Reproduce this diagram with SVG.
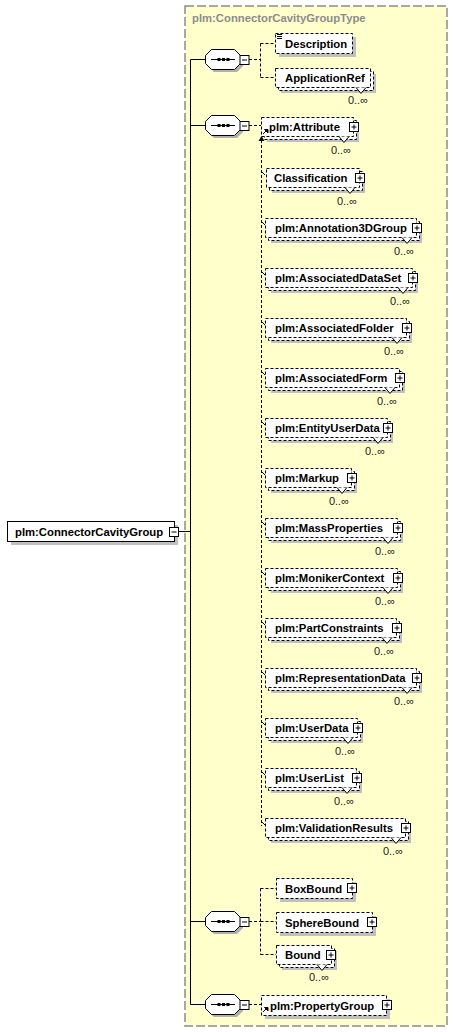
<svg xmlns="http://www.w3.org/2000/svg" xmlns:xlink="http://www.w3.org/1999/xlink" width="453" height="1032" viewBox="0 0 453 1032">
<style>
.sh{fill:#c0c0c0;stroke:none}
.bx{fill:#fff;stroke:#000;stroke-width:1;stroke-dasharray:3 2}
.sbx{fill:#fff;stroke:#000;stroke-width:1}
.lbl{font-family:"Liberation Sans",Arial,sans-serif;font-weight:bold;font-size:11.3px;fill:#000}
.card{font-family:"Liberation Sans",Arial,sans-serif;font-size:11px;fill:#222;text-anchor:end}
.ttl{font-family:"Liberation Sans",Arial,sans-serif;font-weight:bold;font-size:11.3px;fill:#8c8c8c}
.ln{stroke:#000;stroke-width:1;fill:none}
.dl{stroke:#000;stroke-width:1;fill:none;stroke-dasharray:3 2}
.v{fill:#fff;stroke:#000;stroke-width:1}
</style>
<defs>
<g id="plus"><rect x="0.5" y="0.5" width="9" height="9" fill="#fff" stroke="#000"/><path d="M2.5 5H7.5M5 2.5V7.5" stroke="#000" fill="none"/></g>
<g id="minus"><rect x="0.5" y="0.5" width="9" height="9" fill="#fff" stroke="#000"/><path d="M2.5 5H7.5" stroke="#000" fill="none"/></g>
<g id="seq">
<path d="M9 3H32L38 9V17L32 23H9L3 17V9Z" fill="#b0b0b0"/>
<path d="M6.5 0.5H29.5L35.5 6.5V14.5L29.5 20.5H6.5L0.5 14.5V6.5Z" fill="#fff" stroke="#000"/>
<path d="M6 10.5H30" stroke="#000"/>
<rect x="12.5" y="9" width="3" height="3" fill="#000"/>
<rect x="17" y="9" width="3" height="3" fill="#000"/>
<rect x="21.5" y="9" width="3" height="3" fill="#000"/>
<use xlink:href="#minus" x="34.5" y="6"/>
</g>
<path id="ref" d="M0 5L4 1M1.5 0.5H5V4Z" stroke="#000" fill="#000" stroke-width="1"/>
</defs>

<g id="frame">
<rect x="185" y="6" width="262" height="1020" fill="#ffffcc" stroke="#8c8c8c" stroke-width="1.5" stroke-dasharray="9 3"/>
<text class="ttl" x="192" y="22">plm:ConnectorCavityGroupType</text>
</g>

<g id="connectors">
<path class="ln" d="M178.5 531.5H190.5M190.5 59.5V1004.5M190.5 59.5H205M190.5 125.5H205M190.5 921.5H205M190.5 1004.5H205"/>
<path class="dl" d="M249 59.5H260.5M260.5 43.5V77.5M260.5 43.5H275M260.5 77.5H275"/>
<path class="dl" d="M249 125.5H261"/>
<path class="dl" d="M261.5 140V826"/>
<path d="M261.5 136L258.5 141H264.5Z" fill="#000"/>
<path class="ln" d="M262 172L265 175M262 222L265 225M262 272L265 275M262 322L265 325M262 372L265 375M262 422L265 425M262 472L265 475M262 522L265 525M262 572L265 575M262 622L265 625M262 672L265 675M262 722L265 725M262 772L265 775M262 822L265 825"/>
<path class="dl" d="M249 921.5H260.5M260.5 888.5V954.5M260.5 888.5H276M260.5 921.5H276M260.5 954.5H276"/>
<path class="dl" d="M249 1004.5H261"/>
</g>

<g id="root">
<rect class="sh" x="11" y="525" width="167" height="20"/>
<rect class="sbx" x="7.5" y="521.5" width="167" height="20"/>
<text class="lbl" x="15" y="536">plm:ConnectorCavityGroup</text>
<use xlink:href="#minus" x="169" y="527"/>
</g>

<g id="seq1"><use xlink:href="#seq" x="205" y="49"/></g>
<g id="seq2"><use xlink:href="#seq" x="205" y="115"/></g>
<g id="seq3"><use xlink:href="#seq" x="205" y="911"/></g>
<g id="seq4"><use xlink:href="#seq" x="205" y="994"/></g>

<g id="Description">
<rect class="sh" x="279" y="37" width="77" height="20"/>
<rect class="bx" x="275.5" y="33.5" width="77" height="20"/>
<path class="ln" d="M277 34.5H282M277 36.5H282M277 38.5H282"/>
<text class="lbl" x="285" y="48">Description</text>
</g>

<g id="ApplicationRef">
<rect class="sh" x="281" y="74" width="95" height="19"/>
<rect class="bx" x="278.5" y="71.5" width="95" height="19"/>
<rect class="bx" x="275.5" y="68.5" width="95" height="19"/>
<path class="v" d="M356 87.5L361 93.5L366 87.5"/>
<text class="lbl" x="285" y="82">ApplicationRef</text>
<text class="card" x="368" y="104">0..∞</text>
</g>

<g id="Attribute">
<rect class="sh" x="267" y="123" width="92" height="19"/>
<rect class="bx" x="264.5" y="120.5" width="92" height="19"/>
<rect class="bx" x="261.5" y="117.5" width="92" height="19"/>
<path class="v" d="M339 136.5L344 142.5L349 136.5"/>
<use xlink:href="#ref" x="263" y="129"/>
<text class="lbl" x="269" y="131">plm:Attribute</text>
<use xlink:href="#plus" x="349" y="122"/>
<text class="card" x="351" y="153.5">0..∞</text>
</g>

<g id="Classification">
<rect class="sh" x="272" y="174" width="93" height="19"/>
<rect class="bx" x="269.5" y="171.5" width="93" height="19"/>
<rect class="bx" x="266.5" y="168.5" width="93" height="19"/>
<path class="v" d="M345 187.5L350 193.5L355 187.5"/>
<text class="lbl" x="274" y="182">Classification</text>
<use xlink:href="#plus" x="355" y="173"/>
<text class="card" x="357" y="204.5">0..∞</text>
</g>

<g id="Annotation3DGroup">
<rect class="sh" x="271" y="224" width="151" height="19"/>
<rect class="bx" x="268.5" y="221.5" width="151" height="19"/>
<rect class="bx" x="265.5" y="218.5" width="151" height="19"/>
<path class="v" d="M402 237.5L407 243.5L412 237.5"/>
<text class="lbl" x="275" y="232">plm:Annotation3DGroup</text>
<use xlink:href="#plus" x="412" y="223"/>
<text class="card" x="414" y="254.5">0..∞</text>
</g>

<g id="AssociatedDataSet">
<rect class="sh" x="271" y="274" width="147" height="19"/>
<rect class="bx" x="268.5" y="271.5" width="147" height="19"/>
<rect class="bx" x="265.5" y="268.5" width="147" height="19"/>
<path class="v" d="M398 287.5L403 293.5L408 287.5"/>
<text class="lbl" x="275" y="282">plm:AssociatedDataSet</text>
<use xlink:href="#plus" x="408" y="273"/>
<text class="card" x="410" y="304.5">0..∞</text>
</g>

<g id="AssociatedFolder">
<rect class="sh" x="271" y="324" width="141" height="19"/>
<rect class="bx" x="268.5" y="321.5" width="141" height="19"/>
<rect class="bx" x="265.5" y="318.5" width="141" height="19"/>
<path class="v" d="M392 337.5L397 343.5L402 337.5"/>
<text class="lbl" x="275" y="332">plm:AssociatedFolder</text>
<use xlink:href="#plus" x="402" y="323"/>
<text class="card" x="404" y="354.5">0..∞</text>
</g>

<g id="AssociatedForm">
<rect class="sh" x="271" y="374" width="134" height="19"/>
<rect class="bx" x="268.5" y="371.5" width="134" height="19"/>
<rect class="bx" x="265.5" y="368.5" width="134" height="19"/>
<path class="v" d="M385 387.5L390 393.5L395 387.5"/>
<text class="lbl" x="275" y="382">plm:AssociatedForm</text>
<use xlink:href="#plus" x="395" y="373"/>
<text class="card" x="397" y="404.5">0..∞</text>
</g>

<g id="EntityUserData">
<rect class="sh" x="271" y="424" width="122" height="19"/>
<rect class="bx" x="268.5" y="421.5" width="122" height="19"/>
<rect class="bx" x="265.5" y="418.5" width="122" height="19"/>
<path class="v" d="M373 437.5L378 443.5L383 437.5"/>
<text class="lbl" x="275" y="432">plm:EntityUserData</text>
<use xlink:href="#plus" x="383" y="423"/>
<text class="card" x="385" y="454.5">0..∞</text>
</g>

<g id="Markup">
<rect class="sh" x="271" y="474" width="86" height="19"/>
<rect class="bx" x="268.5" y="471.5" width="86" height="19"/>
<rect class="bx" x="265.5" y="468.5" width="86" height="19"/>
<path class="v" d="M337 487.5L342 493.5L347 487.5"/>
<text class="lbl" x="275" y="482">plm:Markup</text>
<use xlink:href="#plus" x="347" y="473"/>
<text class="card" x="349" y="504.5">0..∞</text>
</g>

<g id="MassProperties">
<rect class="sh" x="271" y="524" width="132" height="19"/>
<rect class="bx" x="268.5" y="521.5" width="132" height="19"/>
<rect class="bx" x="265.5" y="518.5" width="132" height="19"/>
<path class="v" d="M383 537.5L388 543.5L393 537.5"/>
<text class="lbl" x="275" y="532">plm:MassProperties</text>
<use xlink:href="#plus" x="393" y="523"/>
<text class="card" x="395" y="554.5">0..∞</text>
</g>

<g id="MonikerContext">
<rect class="sh" x="271" y="574" width="132" height="19"/>
<rect class="bx" x="268.5" y="571.5" width="132" height="19"/>
<rect class="bx" x="265.5" y="568.5" width="132" height="19"/>
<path class="v" d="M383 587.5L388 593.5L393 587.5"/>
<text class="lbl" x="275" y="582">plm:MonikerContext</text>
<use xlink:href="#plus" x="393" y="573"/>
<text class="card" x="395" y="604.5">0..∞</text>
</g>

<g id="PartConstraints">
<rect class="sh" x="271" y="624" width="131" height="19"/>
<rect class="bx" x="268.5" y="621.5" width="131" height="19"/>
<rect class="bx" x="265.5" y="618.5" width="131" height="19"/>
<path class="v" d="M382 637.5L387 643.5L392 637.5"/>
<text class="lbl" x="275" y="632">plm:PartConstraints</text>
<use xlink:href="#plus" x="392" y="623"/>
<text class="card" x="394" y="654.5">0..∞</text>
</g>

<g id="RepresentationData">
<rect class="sh" x="271" y="674" width="151" height="19"/>
<rect class="bx" x="268.5" y="671.5" width="151" height="19"/>
<rect class="bx" x="265.5" y="668.5" width="151" height="19"/>
<path class="v" d="M402 687.5L407 693.5L412 687.5"/>
<text class="lbl" x="275" y="682">plm:RepresentationData</text>
<use xlink:href="#plus" x="412" y="673"/>
<text class="card" x="414" y="704.5">0..∞</text>
</g>

<g id="UserData">
<rect class="sh" x="271" y="724" width="92" height="19"/>
<rect class="bx" x="268.5" y="721.5" width="92" height="19"/>
<rect class="bx" x="265.5" y="718.5" width="92" height="19"/>
<path class="v" d="M343 737.5L348 743.5L353 737.5"/>
<text class="lbl" x="275" y="732">plm:UserData</text>
<use xlink:href="#plus" x="353" y="723"/>
<text class="card" x="355" y="754.5">0..∞</text>
</g>

<g id="UserList">
<rect class="sh" x="271" y="774" width="91" height="19"/>
<rect class="bx" x="268.5" y="771.5" width="91" height="19"/>
<rect class="bx" x="265.5" y="768.5" width="91" height="19"/>
<path class="v" d="M342 787.5L347 793.5L352 787.5"/>
<text class="lbl" x="275" y="782">plm:UserList</text>
<use xlink:href="#plus" x="352" y="773"/>
<text class="card" x="354" y="804.5">0..∞</text>
</g>

<g id="ValidationResults">
<rect class="sh" x="271" y="824" width="140" height="19"/>
<rect class="bx" x="268.5" y="821.5" width="140" height="19"/>
<rect class="bx" x="265.5" y="818.5" width="140" height="19"/>
<path class="v" d="M391 837.5L396 843.5L401 837.5"/>
<text class="lbl" x="275" y="832">plm:ValidationResults</text>
<use xlink:href="#plus" x="401" y="823"/>
<text class="card" x="403" y="854.5">0..∞</text>
</g>

<g id="BoxBound">
<rect class="sh" x="280" y="882" width="76" height="20"/>
<rect class="bx" x="276.5" y="878.5" width="76" height="20"/>
<text class="lbl" x="285" y="893">BoxBound</text>
<use xlink:href="#plus" x="347" y="883"/>
</g>

<g id="SphereBound">
<rect class="sh" x="280" y="916" width="96" height="20"/>
<rect class="bx" x="276.5" y="912.5" width="96" height="20"/>
<text class="lbl" x="285" y="927">SphereBound</text>
<use xlink:href="#plus" x="367" y="917"/>
</g>

<g id="Bound">
<rect class="sh" x="282" y="951" width="55" height="19"/>
<rect class="bx" x="279.5" y="948.5" width="55" height="19"/>
<rect class="bx" x="276.5" y="945.5" width="55" height="19"/>
<path class="v" d="M317 964.5L322 970.5L327 964.5"/>
<text class="lbl" x="285" y="959">Bound</text>
<use xlink:href="#plus" x="326" y="950"/>
<text class="card" x="329" y="981">0..∞</text>
</g>

<g id="PropertyGroup">
<rect class="sh" x="265" y="999" width="125" height="20"/>
<rect class="bx" x="261.5" y="995.5" width="125" height="20"/>
<use xlink:href="#ref" x="263" y="1007"/>
<text class="lbl" x="270" y="1010">plm:PropertyGroup</text>
<use xlink:href="#plus" x="382" y="1000"/>
</g>
</svg>
